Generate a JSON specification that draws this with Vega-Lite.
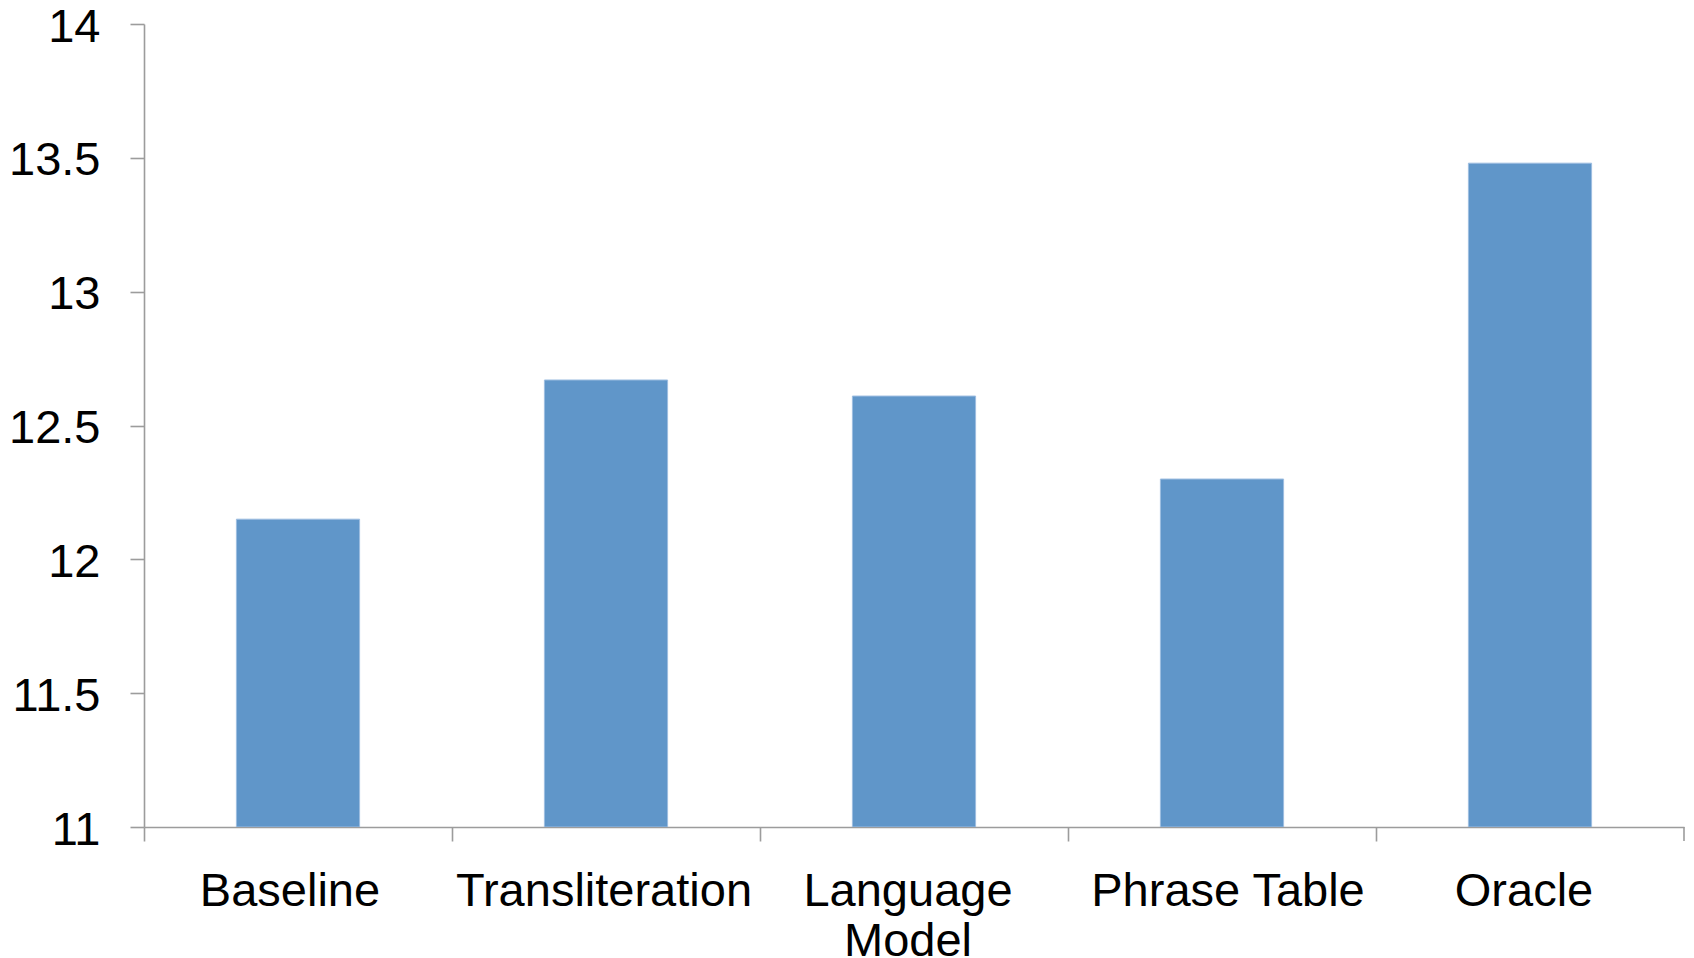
{
  "$schema": "https://vega.github.io/schema/vega-lite/v6.json",
  "autosize": {"type": "none"},
  "padding": {"left": 144, "top": 24, "right": 10, "bottom": 131},
  "width": 1540,
  "height": 803,
  "background": "white",
  "config": {
    "view": {"stroke": null},
    "font": "Liberation Sans",
    "axis": {
      "domainColor": "#9c9c9c",
      "domainWidth": 1.6,
      "tickColor": "#9c9c9c",
      "tickWidth": 1.6,
      "tickSize": 14,
      "labelFont": "Liberation Sans",
      "labelFontSize": 47,
      "labelColor": "#000000",
      "labelLimit": 500,
      "grid": false,
      "title": null
    }
  },
  "data": {
    "values": [
      {"system": "Baseline", "score": 12.15},
      {"system": "Transliteration", "score": 12.67},
      {"system": "Language Model", "score": 12.61},
      {"system": "Phrase Table", "score": 12.3},
      {"system": "Oracle", "score": 13.48}
    ]
  },
  "layer": [
    {
      "mark": {"type": "bar", "clip": true, "width": {"band": 0.4}, "fill": "#6096c9", "stroke": "#9dbde0", "strokeWidth": 1},
      "encoding": {
        "x": {
          "field": "system",
          "type": "nominal",
          "scale": {
            "domain": ["Baseline", "Transliteration", "Language Model", "Phrase Table", "Oracle"],
            "paddingInner": 0,
            "paddingOuter": 0
          },
          "axis": {
            "bandPosition": 0,
            "labelAngle": 0,
            "labelPadding": 27,
            "labelOffset": {
              "condition": [
                {"test": "datum.value == 'Baseline'", "value": -8},
                {"test": "datum.value == 'Transliteration'", "value": -2},
                {"test": "datum.value == 'Phrase Table'", "value": 6}
              ],
              "value": -6
            },
            "labelLineHeight": 50,
            "labelBaseline": "top",
            "labelExpr": "datum.label == 'Language Model' ? ['Language', 'Model'] : datum.label"
          }
        },
        "y": {
          "field": "score",
          "type": "quantitative",
          "scale": {"domain": [11, 14], "zero": false, "nice": false},
          "axis": {
            "values": [11, 11.5, 12, 12.5, 13, 13.5, 14],
            "format": ".1~f",
            "labelPadding": 30,
            "labelOffset": 3
          }
        },
        "y2": {"datum": 11}
      }
    },
    {
      "data": {"values": [{"system": "Oracle"}]},
      "mark": {"type": "rule", "color": "#9c9c9c", "strokeWidth": 1.6, "y2Offset": 14},
      "encoding": {
        "x": {"field": "system", "type": "nominal", "bandPosition": 1},
        "y": {"datum": 11, "type": "quantitative"},
        "y2": {"datum": 11}
      }
    }
  ]
}
